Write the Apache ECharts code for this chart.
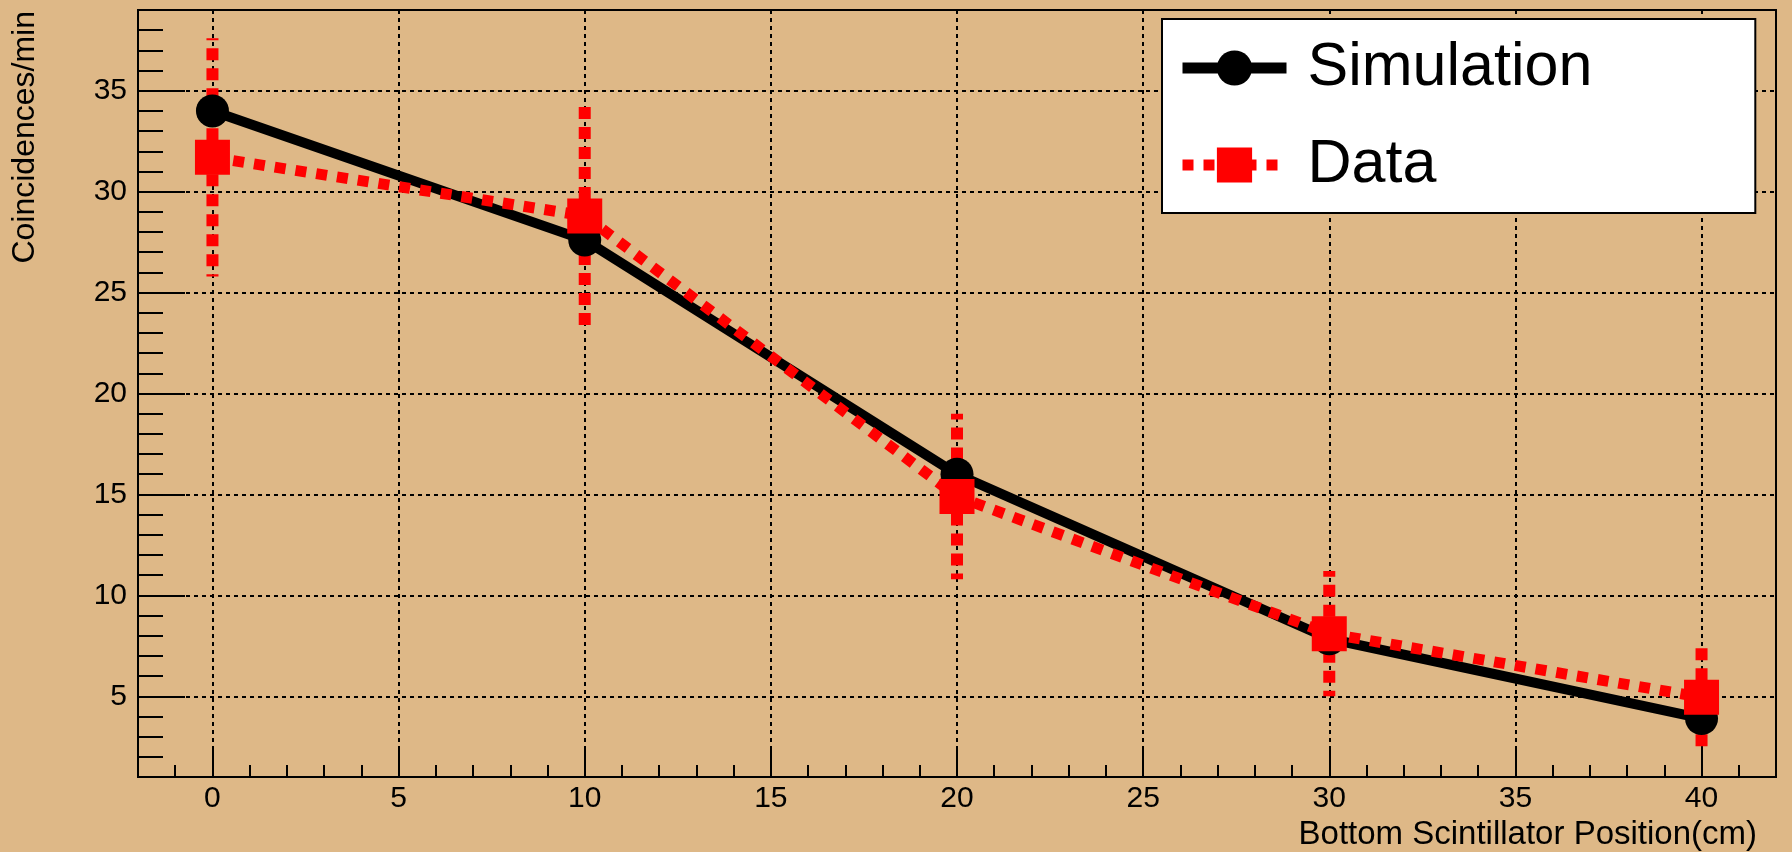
<!DOCTYPE html>
<html>
<head>
<meta charset="utf-8">
<script src="https://cdn.jsdelivr.net/npm/echarts@6/dist/echarts.min.js"></script>
<style>
  html, body { margin: 0; padding: 0; background: #deb887; }
  #chart { width: 1792px; height: 852px; }
</style>
</head>
<body>
<div id="chart"></div>
<script>
// Scintillator position scan: simulated vs measured coincidence rates
const positions = [0, 10, 20, 30, 40];
const simulation = [34.0, 27.6, 16.0, 7.85, 3.9];
const measured = [31.7, 28.8, 14.9, 8.1, 4.95];
const measuredErr = [5.9, 5.65, 4.1, 3.1, 2.5];
const seriesNames = ['Simulation', 'Data'];
const xTitle = 'Bottom Scintillator Position(cm)';
const yTitle = 'Coincidences/min';

const FONT = "'Liberation Sans', Arial, Helvetica, sans-serif";
const BG = '#deb887';
const RED = '#ff0000';

const chart = echarts.init(document.getElementById('chart'), null, { renderer: 'canvas' });

const gridLine = { show: true, lineStyle: { color: '#000', width: 2, type: [4, 4] } };

const option = {
  backgroundColor: BG,
  animation: false,
  grid: {
    left: 138, right: 16, top: 10, bottom: 75,
    show: true, borderColor: '#000', borderWidth: 2, backgroundColor: 'transparent'
  },
  xAxis: {
    type: 'value', min: -2, max: 42, splitNumber: 9, minInterval: 5, maxInterval: 5,
    axisLine: { show: true, onZero: false, lineStyle: { color: '#000', width: 2 } },
    axisTick: { show: true, inside: true, length: 28, lineStyle: { color: '#000', width: 2 } },
    minorTick: { show: true, splitNumber: 5, length: 12, lineStyle: { color: '#000', width: 2 } },
    axisLabel: {
      show: true, margin: 7, color: '#000', fontSize: 30, fontFamily: FONT,
      showMinLabel: false, showMaxLabel: false
    },
    splitLine: gridLine
  },
  yAxis: {
    type: 'value', min: 1, max: 39, splitNumber: 8, minInterval: 5, maxInterval: 5,
    axisLine: { show: true, onZero: false, lineStyle: { color: '#000', width: 2 } },
    axisTick: { show: true, inside: true, length: 47, lineStyle: { color: '#000', width: 2 } },
    minorTick: { show: true, splitNumber: 5, length: 25, lineStyle: { color: '#000', width: 2 } },
    axisLabel: {
      show: true, margin: 11, color: '#000', fontSize: 30, fontFamily: FONT,
      showMinLabel: false, showMaxLabel: false
    },
    splitLine: gridLine
  },
  legend: {
    data: seriesNames,
    orient: 'vertical',
    left: 1162, top: 19,
    padding: [18.5, 163, 17.5, 15],
    itemGap: 36,
    itemWidth: 104,
    itemHeight: 44,
    selectedMode: false,
    backgroundColor: '#fff',
    borderColor: '#000',
    borderWidth: 2,
    borderRadius: 0,
    lineStyle: { width: 11 },
    formatter: name => '{t|' + name + '}',
    textStyle: {
      color: '#000', fontSize: 61, fontFamily: FONT,
      rich: { t: { color: '#000', fontSize: 61, fontFamily: FONT, padding: [0, 0, 0, 16] } }
    }
  },
  graphic: [
    {
      type: 'text', x: 1757, y: 834.5, silent: true,
      style: {
        text: xTitle, font: '33px ' + FONT, fill: '#000',
        textAlign: 'right', textVerticalAlign: 'middle', align: 'right', verticalAlign: 'middle'
      }
    },
    {
      type: 'text', x: 25, y: 11, rotation: Math.PI / 2, silent: true,
      style: {
        text: yTitle, font: '32px ' + FONT, fill: '#000',
        textAlign: 'right', textVerticalAlign: 'middle', align: 'right', verticalAlign: 'middle'
      }
    }
  ],
  series: [
    {
      name: seriesNames[0],
      type: 'line',
      data: positions.map((p, i) => [p, simulation[i]]),
      symbol: 'circle',
      symbolSize: 33,
      itemStyle: { color: '#000' },
      lineStyle: { color: '#000', width: 10 },
      emphasis: { disabled: true }
    },
    {
      name: 'DataErrors',
      type: 'custom',
      data: positions.map((p, i) => [p, measured[i], measuredErr[i]]),
      encode: { x: 0, y: 1 },
      silent: true,
      renderItem: function (params, api) {
        const x = api.value(0), y = api.value(1), e = api.value(2);
        const c = api.coord([x, y]);
        const hi = api.coord([x, y + e]);
        const lo = api.coord([x, y - e]);
        const gap = 17;
        const style = { stroke: RED, lineWidth: 12, lineDash: [12, 8], fill: null };
        return {
          type: 'group',
          children: [
            { type: 'line', shape: { x1: c[0], y1: c[1] - gap, x2: hi[0], y2: hi[1] }, style: style },
            { type: 'line', shape: { x1: c[0], y1: c[1] + gap, x2: lo[0], y2: lo[1] }, style: style }
          ]
        };
      }
    },
    {
      name: seriesNames[1],
      type: 'line',
      data: positions.map((p, i) => [p, measured[i]]),
      symbol: 'rect',
      symbolSize: 35,
      itemStyle: { color: RED },
      lineStyle: { color: RED, width: 11, type: [11, 10] },
      emphasis: { disabled: true }
    }
  ]
};

chart.setOption(option);
</script>
</body>
</html>
